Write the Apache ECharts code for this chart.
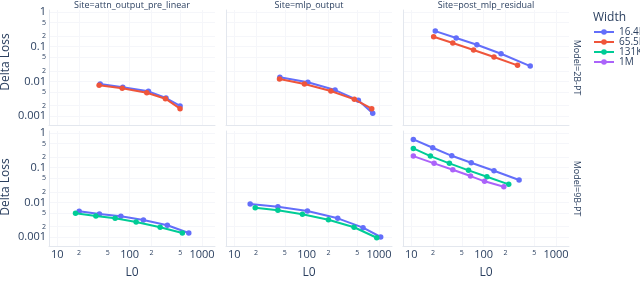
<!DOCTYPE html>
<html>
<head>
<meta charset="utf-8">
<script src="https://cdn.jsdelivr.net/npm/echarts@6/dist/echarts.min.js"></script>
<style>html,body{margin:0;padding:0;background:#fff}#c{width:640px;height:291px}</style>
</head>
<body>
<div id="c"></div>
<script>
// ---- data ----
const sites = ['attn_output_pre_linear', 'mlp_output', 'post_mlp_residual'];
const models = ['2B-PT', '9B-PT'];
const widths = ['16.4K', '65.5K', '131K', '1M'];
const widthColors = ['#636efa', '#EF553B', '#00cc96', '#ab63fa'];
const xTickValues = [10, 20, 50, 100, 200, 500, 1000];
const yTickValues = [0.001, 0.002, 0.005, 0.01, 0.02, 0.05, 0.1, 0.2, 0.5, 1];

// Model=2B-PT
const attn2B_16k_l0   = [39.2, 80.5, 181.7, 318, 497];
const attn2B_16k_loss = [0.00838, 0.00673, 0.00516, 0.00331, 0.00195];
const attn2B_65k_l0   = [37.9, 78.9, 172.6, 312, 497];
const attn2B_65k_loss = [0.00769, 0.0063, 0.0047, 0.00316, 0.00163];
const mlp2B_16k_l0    = [42.7, 104, 247, 518, 818];
const mlp2B_16k_loss  = [0.0131, 0.00938, 0.00562, 0.00284, 0.0012];
const mlp2B_65k_l0    = [42.2, 93.3, 216, 456, 793];
const mlp2B_65k_loss  = [0.0117, 0.00838, 0.00526, 0.00303, 0.00163];
const res2B_16k_l0    = [21.5, 41.8, 80.7, 174, 440];
const res2B_16k_loss  = [0.283, 0.178, 0.114, 0.0627, 0.0277];
const res2B_65k_l0    = [20.4, 37.5, 72.6, 139, 294];
const res2B_65k_loss  = [0.194, 0.128, 0.0802, 0.0504, 0.029];
// Model=9B-PT
const attn9B_16k_l0   = [20.1, 38.3, 75.7, 155, 332, 656];
const attn9B_16k_loss = [0.00552, 0.00461, 0.00396, 0.0031, 0.00218, 0.0013];
const attn9B_131k_l0  = [17.9, 34.2, 63.1, 123, 264, 535];
const attn9B_131k_loss= [0.00483, 0.00404, 0.00346, 0.00271, 0.00191, 0.0013];
const mlp9B_16k_l0    = [16.6, 40.1, 102.6, 269, 601, 1054];
const mlp9B_16k_loss  = [0.00896, 0.00749, 0.00562, 0.00346, 0.00186, 0.001];
const mlp9B_131k_l0   = [19.5, 40.1, 87.5, 200, 452, 929];
const mlp9B_131k_loss = [0.007, 0.00589, 0.00452, 0.00316, 0.00191, 0.00095];
const res9B_16k_l0    = [10.7, 19.8, 36.3, 67.4, 139, 309];
const res9B_16k_loss  = [0.658, 0.377, 0.221, 0.139, 0.0818, 0.0441];
const res9B_131k_l0   = [10.7, 18.4, 33.7, 61.9, 111, 222];
const res9B_131k_loss = [0.362, 0.217, 0.134, 0.084, 0.0549, 0.0331];
const res9B_1m_l0     = [10.7, 20.7, 37.5, 65.9, 103, 190];
const res9B_1m_loss   = [0.217, 0.134, 0.0875, 0.0575, 0.0405, 0.0283];

// traces: [row, col, widthIndex, l0, loss]
const traces = [
  [0, 0, 0, attn2B_16k_l0, attn2B_16k_loss],
  [0, 0, 1, attn2B_65k_l0, attn2B_65k_loss],
  [0, 1, 0, mlp2B_16k_l0, mlp2B_16k_loss],
  [0, 1, 1, mlp2B_65k_l0, mlp2B_65k_loss],
  [0, 2, 0, res2B_16k_l0, res2B_16k_loss],
  [0, 2, 1, res2B_65k_l0, res2B_65k_loss],
  [1, 0, 0, attn9B_16k_l0, attn9B_16k_loss],
  [1, 0, 2, attn9B_131k_l0, attn9B_131k_loss],
  [1, 1, 0, mlp9B_16k_l0, mlp9B_16k_loss],
  [1, 1, 2, mlp9B_131k_l0, mlp9B_131k_loss],
  [1, 2, 0, res9B_16k_l0, res9B_16k_loss],
  [1, 2, 2, res9B_131k_l0, res9B_131k_loss],
  [1, 2, 3, res9B_1m_l0, res9B_1m_loss]
];

// ---- layout ----
const FONT = '"Open Sans", "DejaVu Sans", sans-serif';
const TXT = '#2a3f5f';
const colLeft = [49, 226, 403];
const rowTop = [10, 131];
const gridW = 166, gridH = 115;

function isMajor(v) {
  const l = Math.log10(v);
  return Math.abs(l - Math.round(l)) < 1e-6;
}
function tickFmt(v) {
  v = +(+v).toPrecision(6);
  if (isMajor(v)) return '{maj|' + String(v) + '}';
  const d = Math.round(v / Math.pow(10, Math.floor(Math.log10(v) + 1e-9)));
  return '{mn|' + d + '}';
}
const richX = {
  maj: { fontSize: 11, fontFamily: FONT, color: TXT },
  mn: { fontSize: 7, fontFamily: FONT, color: TXT }
};

const grid = [], xAxis = [], yAxis = [];
for (let r = 0; r < 2; r++) {
  for (let c = 0; c < 3; c++) {
    const g = r * 3 + c;
    grid.push({ left: colLeft[c], top: rowTop[r], width: gridW, height: gridH, containLabel: false });
    xAxis.push({
      type: 'log', gridIndex: g, min: 7.7, max: 1510, logBase: 10,
      axisLine: { show: true, lineStyle: { color: '#e3e7ee', width: 1 } },
      axisTick: { show: false, customValues: xTickValues },
      splitLine: { show: true, lineStyle: { color: '#f5f6fa', width: 1 } },
      axisLabel: { show: r === 1, customValues: xTickValues, margin: 3, formatter: tickFmt, rich: richX }
    });
    yAxis.push({
      type: 'log', gridIndex: g, min: 0.00055, max: 1.15, logBase: 10,
      axisLine: { show: true, lineStyle: { color: '#e3e7ee', width: 1 } },
      axisTick: { show: false, customValues: yTickValues },
      splitLine: { show: true, lineStyle: { color: '#f5f6fa', width: 1 } },
      axisLabel: { show: c === 0, customValues: yTickValues, margin: 3, formatter: tickFmt, rich: richX }
    });
  }
}

const series = traces.map(t => {
  const [r, c, w, xs, ys] = t;
  const g = r * 3 + c;
  return {
    type: 'line', name: widths[w], xAxisIndex: g, yAxisIndex: g,
    data: xs.map((x, i) => [x, ys[i]]),
    symbol: 'circle', symbolSize: 5.5, showSymbol: true,
    lineStyle: { color: widthColors[w], width: 2 },
    itemStyle: { color: widthColors[w] },
    emphasis: { disabled: true }, animation: false, z: 2 + w
  };
});

const graphic = [];
sites.forEach((s, c) => {
  graphic.push({ type: 'text', x: colLeft[c] + gridW / 2, y: 5,
    style: { text: 'Site=' + s, fill: TXT, font: '9px ' + FONT, textAlign: 'center', textVerticalAlign: 'middle' } });
  graphic.push({ type: 'text', x: colLeft[c] + gridW / 2, y: 273,
    style: { text: 'L0', fill: TXT, font: '12px ' + FONT, textAlign: 'center', textVerticalAlign: 'middle' } });
});
[62, 187].forEach(y => {
  graphic.push({ type: 'text', x: 6, y: y, rotation: Math.PI / 2,
    style: { text: 'Delta Loss', fill: TXT, font: '12px ' + FONT, textAlign: 'center', textVerticalAlign: 'middle' } });
});
models.forEach((m, r) => {
  graphic.push({ type: 'text', x: 577, y: rowTop[r] + gridH / 2, rotation: -Math.PI / 2,
    style: { text: 'Model=' + m, fill: TXT, font: '9px ' + FONT, textAlign: 'center', textVerticalAlign: 'middle' } });
});
graphic.push({ type: 'text', x: 593, y: 18,
  style: { text: 'Width', fill: TXT, font: '12px ' + FONT, textAlign: 'left', textVerticalAlign: 'middle' } });

const chart = echarts.init(document.getElementById('c'), null, { renderer: 'canvas' });
chart.setOption({
  animation: false,
  backgroundColor: '#ffffff',
  grid, xAxis, yAxis, series, graphic,
  legend: {
    data: widths, orient: 'vertical', left: 593, top: 27, padding: 0,
    itemWidth: 20, itemHeight: 7, itemGap: 0,
    textStyle: { fontSize: 10, fontFamily: FONT, color: TXT, lineHeight: 10 },
    selectedMode: false
  }
});
</script>
</body>
</html>
